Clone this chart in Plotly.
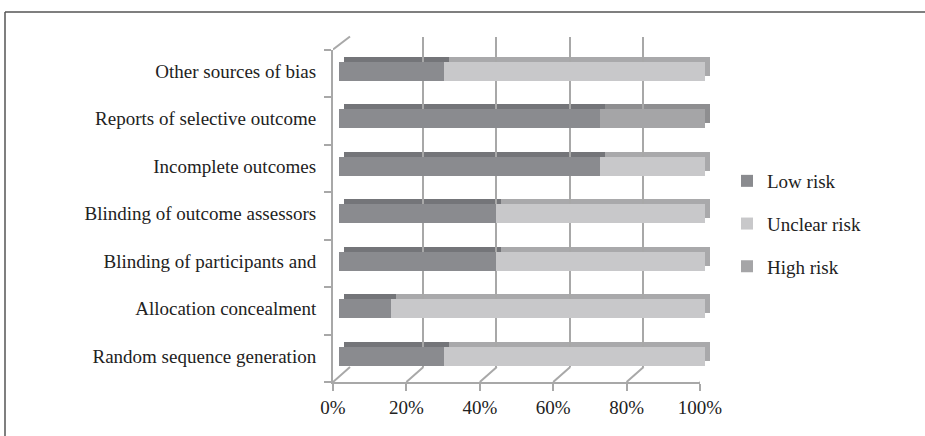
import plotly.graph_objects as go

# Risk-of-bias domains, listed bottom to top
categories = [
    "Random sequence generation",
    "Allocation concealment",
    "Blinding of participants and",
    "Blinding of outcome assessors",
    "Incomplete outcomes",
    "Reports of selective outcome",
    "Other sources of bias",
]
low_risk = [28.57, 14.29, 42.86, 42.86, 71.43, 71.43, 28.57]
unclear_risk = [71.43, 85.71, 57.14, 57.14, 28.57, 0, 71.43]
high_risk = [0, 0, 0, 0, 0, 28.57, 0]
x_ticks = [0, 20, 40, 60, 80, 100]
x_tick_labels = ["0%", "20%", "40%", "60%", "80%", "100%"]

series = [
    ("Low risk", low_risk, "#8a8b8f", "#747579"),
    ("Unclear risk", unclear_risk, "#c8c8ca", "#a9a9ab"),
    ("High risk", high_risk, "#a5a5a7", "#8e8e90"),
]

W, H = 925, 436
FONT = "Liberation Serif"
TXT = "#222222"
GRID = "#a8a8a8"


def px(v):
    return v / W


def py(v):
    return 1 - v / H


fig = go.Figure()

# depth faces of the bars: a shifted copy drawn first (main subplot)
for name, vals, front, top in series:
    fig.add_trace(go.Bar(
        y=categories, x=vals, orientation="h",
        marker=dict(color=top, line=dict(width=0)), showlegend=False,
        hoverinfo="skip",
    ))

# empty traces so the wall / floor axes get drawn
fig.add_trace(go.Scatter(x=[], y=[], xaxis="x2", yaxis="y2", showlegend=False))
fig.add_trace(go.Scatter(x=[], y=[], xaxis="x3", yaxis="y3", showlegend=False))

# front faces, on the last subplot so they sit on top
for name, vals, front, top in series:
    fig.add_trace(go.Bar(
        y=categories, x=vals, orientation="h", name=name,
        xaxis="x4", yaxis="y4",
        marker=dict(color=front, line=dict(width=0)),
        legendgroup=name, hoverinfo="skip",
    ))

bar_y_domain = [py(379.75), py(47.25)]
shift = 5

fig.update_layout(
    width=W, height=H, autosize=False,
    margin=dict(l=0, r=0, t=0, b=0, pad=0, autoexpand=False),
    paper_bgcolor="white", plot_bgcolor="rgba(0,0,0,0)",
    barmode="stack", bargap=0.6,
    font=dict(family=FONT, size=19, color=TXT),
    showlegend=True,
    legend=dict(x=px(727), y=py(162), xanchor="left", yanchor="top",
                traceorder="grouped", tracegroupgap=15,
                font=dict(family=FONT, size=19, color=TXT),
                itemwidth=30, bgcolor="rgba(0,0,0,0)"),
    # depth faces
    xaxis=dict(domain=[px(339 + shift), px(705 + shift)], range=[0, 100],
               visible=False, automargin=False),
    yaxis=dict(domain=[bar_y_domain[0] + shift / H, bar_y_domain[1] + shift / H],
               type="category", categoryorder="array", categoryarray=categories,
               range=[-0.5, 6.5], visible=False, automargin=False),
    # back wall gridlines
    xaxis2=dict(domain=[px(350), px(716)], range=[0, 100], anchor="y2",
                tickvals=x_ticks, showticklabels=False, showgrid=True,
                gridcolor=GRID, gridwidth=2, zeroline=False, showline=False,
                ticks="", automargin=False),
    yaxis2=dict(domain=[py(367), py(37)], range=[0, 1], anchor="x2",
                visible=False, automargin=False),
    # front floor edge and left wall edge
    xaxis3=dict(domain=[px(333), px(700)], range=[0, 100], anchor="y3",
                tickmode="array", tickvals=x_ticks, ticktext=x_tick_labels,
                showgrid=False, zeroline=False, showline=True, linecolor=GRID,
                linewidth=2, ticks="outside", ticklen=7, tickcolor=GRID,
                tickwidth=2, tickfont=dict(family=FONT, size=19, color=TXT),
                automargin=False),
    yaxis3=dict(domain=[py(382), py(49.5)], range=[0, 7], anchor="x3",
                dtick=1, showticklabels=False, showgrid=False, zeroline=False,
                showline=True, linecolor=GRID, linewidth=2, ticks="outside",
                ticklen=7, tickcolor=GRID, tickwidth=2, automargin=False),
    # bar front faces with category labels
    xaxis4=dict(domain=[px(339), px(705)], range=[0, 100], anchor="y4",
                visible=False, automargin=False),
    yaxis4=dict(domain=bar_y_domain, type="category", categoryorder="array",
                categoryarray=categories, range=[-0.5, 6.5], anchor="x4",
                showgrid=False, zeroline=False, showline=False,
                ticks="outside", ticklen=18, tickcolor="rgba(0,0,0,0)",
                tickfont=dict(family=FONT, size=19, color=TXT),
                automargin=False),
)

shapes = []
# floor diagonals from each front tick back to the wall
for v in x_ticks:
    shapes.append(dict(type="line", xref="x3", yref="paper",
                       xsizemode="pixel", xanchor=v, x0=0, x1=17,
                       ysizemode="pixel", yanchor=py(382), y0=0, y1=15,
                       line=dict(color=GRID, width=2), layer="below"))
# top diagonal of the left wall
shapes.append(dict(type="line", xref="x3", yref="paper",
                   xsizemode="pixel", xanchor=0, x0=0, x1=17,
                   ysizemode="pixel", yanchor=py(49.5), y0=0, y1=13,
                   line=dict(color=GRID, width=2), layer="below"))
# outer frame (top and left edges; the others run off the page)
shapes.append(dict(type="line", xref="paper", yref="paper",
                   x0=px(5), x1=1, y0=py(12), y1=py(12),
                   line=dict(color="#555555", width=1.5)))
shapes.append(dict(type="line", xref="paper", yref="paper",
                   x0=px(5), x1=px(5), y0=0, y1=py(12),
                   line=dict(color="#555555", width=1.5)))
fig.update_layout(shapes=shapes)

fig.write_html("out.html", config=dict(responsive=False, displayModeBar=False))
